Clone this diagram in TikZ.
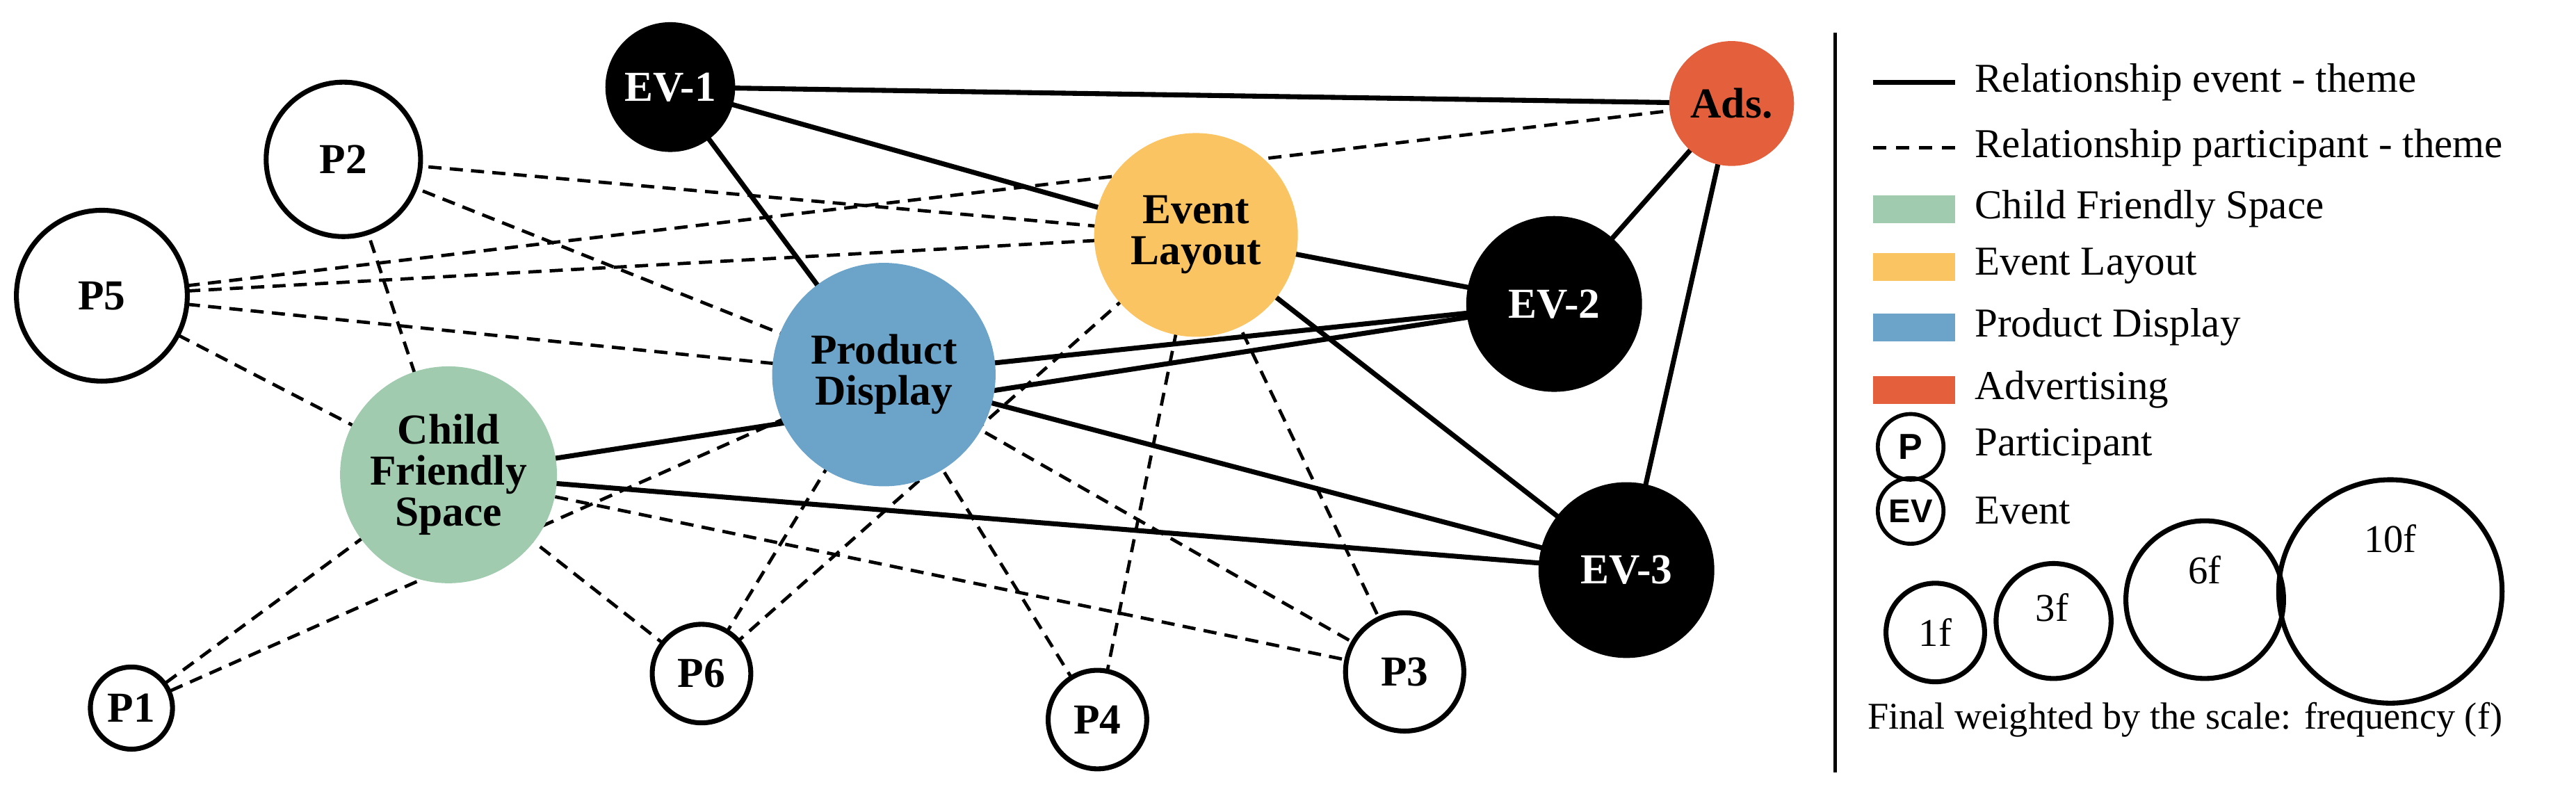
\documentclass[tikz,border=0pt]{standalone}
\usepackage{fontspec}
\setmainfont{Liberation Serif}
\newfontfamily\sansf{Liberation Sans}
\usetikzlibrary{backgrounds}
\definecolor{cfs}{HTML}{A0CBAE}
\definecolor{evl}{HTML}{FBC463}
\definecolor{prd}{HTML}{6CA3C8}
\definecolor{ads}{HTML}{E4603C}
\begin{document}
\begin{tikzpicture}[x=0.5pt,y=-0.5pt,
  nd/.style={circle,draw,line width=1.5pt,inner sep=0pt,minimum size=#1pt,align=center,
    font=\fontsize{13}{12.5}\selectfont\bfseries},
  pn/.style={nd=#1,fill=white},
  ev/.style={nd=#1,fill=black,text=white},
  th/.style={nd=#1,draw=none},
  sol/.style={line width=1.5pt},
  dsh/.style={line width=1pt,dash pattern=on 4pt off 2.5pt},
  lg/.style={anchor=west,font=\fontsize{12.5}{13}\selectfont},
  sc/.style={circle,draw,line width=1.5pt,inner sep=0pt,minimum size=#1pt,font=\fontsize{12}{12}\selectfont}]
\useasboundingbox (0,0) rectangle (1568,483);
% nodes
\node[ev=38] (ev1) at (408,53) {EV-1};
\node[pn=47] (p2) at (209,97) {P2};
\node[pn=52] (p5) at (62,180) {P5};
\node[th=66,fill=cfs] (cfs) at (273,289) {Child\\Friendly\\Space};
\node[th=68,fill=prd] (pd) at (538,228) {Product\\Display};
\node[th=62,fill=evl] (el) at (728,143) {Event\\Layout};
\node[th=38,fill=ads] (ad) at (1054,63) {Ads.};
\node[ev=52] (ev2) at (946,185) {EV-2};
\node[ev=52] (ev3) at (990,347) {EV-3};
\node[pn=25] (p1) at (80,431) {P1};
\node[pn=30] (p6) at (427,410) {P6};
\node[pn=30] (p4) at (668,438) {P4};
\node[pn=36] (p3) at (855,409) {P3};
\begin{scope}[on background layer]
\foreach \a/\b in {ev1/ad,ev1/el,ev1/pd,el/ev2,el/ev3,ad/ev2,ad/ev3,pd/ev2,cfs/ev2,pd/ev3,cfs/ev3}
  \draw[sol] (\a.center) -- (\b.center);
\foreach \a/\b in {p2/el,p2/pd,p2/cfs,p5/ad,p5/el,p5/pd,p5/cfs,p1/cfs,p1/pd,p6/cfs,p6/pd,p6/el,p4/pd,p4/el,p3/cfs,p3/pd,p3/el}
  \draw[dsh] (\a.center) -- (\b.center);
\end{scope}
% legend
\coordinate (dt) at (1117,20); \coordinate (db) at (1117,470);
\draw[line width=1pt] (dt) -- (db);
\coordinate (l1a) at (1140,50); \coordinate (l1b) at (1190,50);
\draw[sol] (l1a) -- (l1b);
\coordinate (l2a) at (1140,90); \coordinate (l2b) at (1190,90);
\draw[dsh,dash pattern=on 4pt off 3pt] (l2a) -- (l2b);
\node[lg] (t1) at (1195,50) {Relationship event - theme};
\node[lg] (t2) at (1195,90) {Relationship participant - theme};
\fill[cfs] (1140,119) rectangle (1190,136);
\node[lg] (t3) at (1195,127) {Child Friendly Space};
\fill[evl] (1140,154) rectangle (1190,171);
\node[lg] (t4) at (1195,162) {Event Layout};
\fill[prd] (1140,191) rectangle (1190,208);
\node[lg] (t5) at (1195,199) {Product Display};
\fill[ads] (1140,229) rectangle (1190,246);
\node[lg] (t6) at (1195,237) {Advertising};
\node[circle,draw,line width=1.2pt,minimum size=20pt,inner sep=0pt,font=\sansf\bfseries\fontsize{11}{11}\selectfont] (lp) at (1163,272) {P};
\node[lg] (t7) at (1195,272) {Participant};
\node[circle,draw,line width=1.2pt,minimum size=20pt,inner sep=0pt,font=\sansf\bfseries\fontsize{10}{10}\selectfont] (le) at (1163,311) {EV};
\node[lg] (t8) at (1195,311) {Event};
\node[sc=30] (s1) at (1178,385) {1f};
\node[sc=35] (s3) at (1250,378) {};
\node[font=\fontsize{12}{12}\selectfont] (s3t) at (1249,370) {3f};
\node[sc=48] (s6) at (1342,365) {};
\node[font=\fontsize{12}{12}\selectfont] (s6t) at (1342,347) {6f};
\node[sc=68] (s10) at (1455,360) {};
\node[font=\fontsize{12}{12}\selectfont] (s10t) at (1455,328) {10f};
\node[font=\fontsize{11.5}{12}\selectfont] (cap) at (1330,438) {Final weighted by the scale: frequency (f)};
\end{tikzpicture}
\end{document}
